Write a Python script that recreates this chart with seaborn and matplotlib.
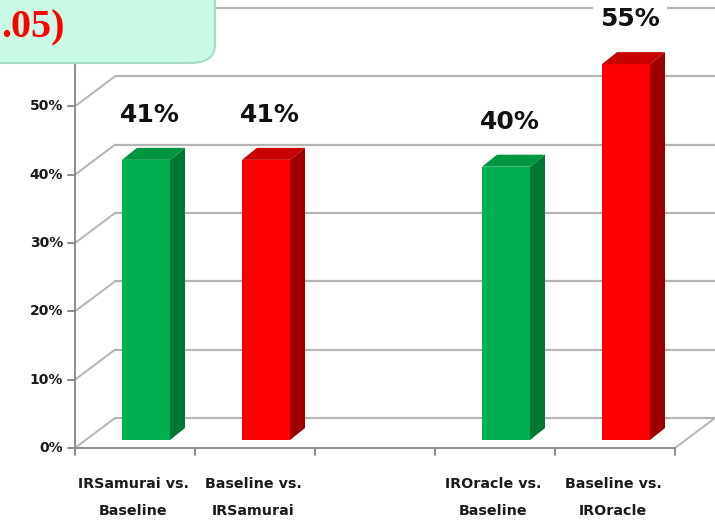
import matplotlib
matplotlib.use("Agg")
import matplotlib.pyplot as plt
import seaborn as sns
import pandas as pd
from matplotlib.patches import Polygon, FancyBboxPatch

# ---- data -------------------------------------------------------------
categories = ["IRSamurai vs.\nBaseline", "Baseline vs.\nIRSamurai",
              "IROracle vs.\nBaseline", "Baseline vs.\nIROracle"]
values = [0.41, 0.41, 0.40, 0.55]
value_labels = ["41%", "41%", "40%", "55%"]
front_colors = ["#00b050", "#ff0000", "#00b050", "#ff0000"]
side_colors = ["#007833", "#a00000", "#007833", "#a00000"]
top_colors = ["#00963f", "#c80000", "#00963f", "#c80000"]
y_ticks = [0.0, 0.1, 0.2, 0.3, 0.4, 0.5]
y_tick_labels = ["0%", "10%", "20%", "30%", "40%", "50%"]
y_top = 0.6
note_text = ".05)"

# category slots: an empty slot separates the two comparison groups
order = [categories[0], categories[1], " ", categories[2], categories[3]]

# ---- figure ------------------------------------------------------------
sns.set_theme(style="white")
plt.rcParams["font.family"] = ["DejaVu Sans"]
W, H = 715, 520
fig = plt.figure(figsize=(W / 100, H / 100), dpi=100)
fig.patch.set_facecolor("white")
ax = fig.add_axes([86 / W, 80 / H, 600 / W, 410 / H])

df = pd.DataFrame({"cat": categories, "val": values})
sns.barplot(data=df, x="cat", y="val", order=order, hue="cat",
            hue_order=categories, palette=dict(zip(categories, front_colors)),
            legend=False, width=0.4, errorbar=None, saturation=1,
            linewidth=0, ax=ax, zorder=3)

ax.set_xlim(-0.5, len(order) - 0.5)
ax.set_ylim(0, y_top)
ax.axis("off")

# pixel -> data scale factors for the oblique projection
sx = (len(order)) / 600.0
sy = y_top / 410.0
FRONT = (-11, -8)   # front wall plane relative to the bar plane (px)
BACK = (29, 22)     # back wall plane relative to the bar plane (px)
DEPTH = (15, 12)    # bar depth (px)


def shift(x, y, off):
    return x + off[0] * sx, y + off[1] * sy


grid_c = "#b4b4b4"
axis_c = "#8c8c8c"
x0, x1 = -0.5, len(order) - 0.5

# back wall gridlines and left side wall diagonals
for gy in y_ticks + [y_top]:
    bx0, by = shift(x0, gy, BACK)
    bx1, _ = shift(x1 + 1.0, gy, BACK)
    ax.plot([bx0, bx1], [by, by], color=grid_c, lw=1.6, clip_on=False, zorder=1)
    fx, fy = shift(x0, gy, FRONT)
    ax.plot([fx, bx0], [fy, by], color=grid_c, lw=1.4, clip_on=False, zorder=1)

# floor: front edge and right diagonal
fx0, fy0 = shift(x0, 0, FRONT)
fx1, _ = shift(x1, 0, FRONT)
ax.plot([fx0, fx1], [fy0, fy0], color=axis_c, lw=1.4, clip_on=False, zorder=2)
rbx, rby = shift(x1, 0, BACK)
ax.plot([fx1, rbx], [fy0, rby], color=grid_c, lw=1.4, clip_on=False, zorder=1)

# front value axis
_, fy_top = shift(x0, y_top, FRONT)
ax.plot([fx0, fx0], [fy0, fy_top], color=axis_c, lw=1.4, clip_on=False, zorder=2)
for gy, lab in zip(y_ticks, y_tick_labels):
    tx, ty = shift(x0, gy, FRONT)
    ax.plot([tx - 7 * sx, tx], [ty, ty], color=axis_c, lw=1.4, clip_on=False, zorder=2)
    ax.text(tx - 12 * sx, ty, lab, ha="right", va="center", fontsize=10,
            fontweight="bold", color="#1a1a1a")

# category tick marks on the floor edge
for k in range(len(order) + 1):
    tx, ty = shift(x0 + k, 0, FRONT)
    ax.plot([tx, tx], [ty, ty - 7 * sy], color=axis_c, lw=1.4, clip_on=False, zorder=2)

# category labels (two lines each)
for i, cat in enumerate(order):
    if not cat.strip():
        continue
    cx, cy = shift(i, 0, FRONT)
    for j, line in enumerate(cat.split("\n")):
        ax.annotate(line, (cx - 2 * sx, cy), xytext=(0, -36 - 27 * j),
                    textcoords="offset pixels", ha="center", va="center",
                    fontsize=10.3, fontweight="bold", color="#1a1a1a",
                    annotation_clip=False)

# 3-D side and top faces for every bar, plus value labels
for p in ax.patches:
    xc = p.get_x() + p.get_width() / 2
    k = categories.index(order[int(round(xc))])
    xl, xr = p.get_x(), p.get_x() + p.get_width()
    h = p.get_height()
    dx, dy = DEPTH[0] * sx, DEPTH[1] * sy
    side = Polygon([(xr, 0), (xr + dx, dy), (xr + dx, h + dy), (xr, h)],
                   closed=True, facecolor=side_colors[k], edgecolor="none", zorder=3)
    top = Polygon([(xl, h), (xl + dx, h + dy), (xr + dx, h + dy), (xr, h)],
                  closed=True, facecolor=top_colors[k], edgecolor="none", zorder=3)
    ax.add_patch(side)
    ax.add_patch(top)
    ax.annotate(value_labels[k], (xc, h), xytext=(4, 45),
                textcoords="offset pixels", ha="center", va="center",
                fontsize=18, fontweight="bold", color="#111111", zorder=5,
                annotation_clip=False,
                bbox=dict(boxstyle="square,pad=0.3", facecolor="white",
                          edgecolor="none"))

# note box in the upper left corner
box = FancyBboxPatch((-30 / W, 1 - 63 / H), 245 / W, 100 / H,
                     boxstyle="round,pad=0,rounding_size=0.035",
                     transform=fig.transFigure, facecolor="#c8fae6",
                     edgecolor="#a6dcc2", lw=1.5, zorder=10)
fig.patches.append(box)
fig.text(1 / W, 1 - 37 / H, note_text, ha="left", va="baseline",
         fontsize=29, fontweight="bold", family=["Liberation Serif"],
         color="#ff0000", zorder=11)

fig.savefig("out.png", dpi=100)
